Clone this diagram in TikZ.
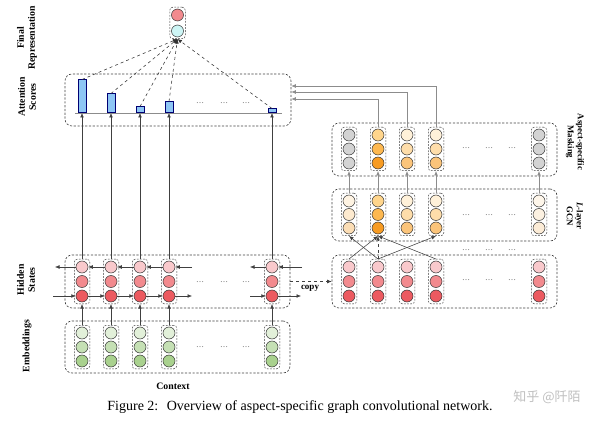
\documentclass[tikz,border=0pt]{standalone}
\usepackage{fontspec}
\setmainfont{Liberation Serif}
\newfontfamily\cjk{Noto Sans CJK SC}
\usetikzlibrary{arrows.meta,fit}
\definecolor{pkA}{HTML}{F9C9CC}
\definecolor{pkB}{HTML}{F28A8E}
\definecolor{pkC}{HTML}{EC5A60}
\definecolor{gnA}{HTML}{E2F0D9}
\definecolor{gnB}{HTML}{C5E0B4}
\definecolor{gnC}{HTML}{A9D18E}
\definecolor{gy}{HTML}{D3D3D3}
\definecolor{orA}{HTML}{FFD58C}
\definecolor{orB}{HTML}{FDB850}
\definecolor{orC}{HTML}{F79B22}
\definecolor{ltA}{HTML}{FFF1D9}
\definecolor{ltB}{HTML}{FEDDAA}
\definecolor{ltC}{HTML}{FBC47A}
\definecolor{crA}{HTML}{FEF3E2}
\definecolor{crB}{HTML}{FDEACF}
\definecolor{crC}{HTML}{FBDDB5}
\definecolor{wtA}{HTML}{FEF6EA}
\definecolor{wtB}{HTML}{FCF1E1}
\definecolor{wtC}{HTML}{FBEBD6}
\definecolor{frRed}{HTML}{F28A8E}
\definecolor{frCyan}{HTML}{CDF5F5}
\definecolor{barblue}{HTML}{8EC6F5}
\tikzset{
 outerbox/.style={draw=black!75, dash pattern=on 2.2pt off 1.6pt, rounded corners=7pt, line width=0.6pt, inner sep=0},
 colbox/.style={draw=black!75, dash pattern=on 1.8pt off 1.3pt, rounded corners=3pt, line width=0.5pt, inner sep=1.5pt},
 cell/.style={circle, draw=black!80, line width=0.5pt, minimum size=12pt, inner sep=0},
 arr/.style={-{Latex[length=4.5pt,width=3.8pt]}, line width=0.55pt, draw=black!75},
 garr/.style={-{Latex[length=4.5pt,width=3.8pt]}, line width=0.65pt, draw=black!45},
 bar/.style={draw=blue!45!black, fill=barblue, minimum width=8pt, inner sep=0, anchor=south, line width=0.5pt},
 lab/.style={font=\fontsize{9.8}{11}\selectfont\bfseries, align=center},
 rlab/.style={font=\fontsize{8.8}{10}\selectfont\bfseries, align=center},
 dotsty/.style={font=\fontsize{8}{8}\selectfont, text=black!70, inner sep=0},
}
\begin{document}
\begin{tikzpicture}[x=1pt,y=-1pt]
\useasboundingbox (0,0) rectangle (600,422);
% outer boxes
\node[outerbox, minimum width=226pt, minimum height=52pt] (att) at (178,100) {};
\node[outerbox, minimum width=225pt, minimum height=53pt] (hid) at (177.5,281.5) {};
\node[outerbox, minimum width=225pt, minimum height=52pt] (emb) at (177.5,347) {};
\node[outerbox, minimum width=225pt, minimum height=53pt] (msk) at (444.5,149.5) {};
\node[outerbox, minimum width=225pt, minimum height=52pt] (gcn) at (444.5,215) {};
\node[outerbox, minimum width=225pt, minimum height=53pt] (cpy) at (444.5,281.5) {};
% final representation
\node[cell, fill=frRed] (fa) at (177.5,15) {};
\node[cell, fill=frCyan] (fb) at (177.5,31) {};
\node[colbox, fit=(fa)(fb)] (fin) {};
% left columns
\foreach \i/\x in {1/82,2/111,3/140,4/169,5/272} {
  \node[cell, fill=pkA] (h\i a) at (\x,267) {};
  \node[cell, fill=pkB] (h\i b) at (\x,281.5) {};
  \node[cell, fill=pkC] (h\i c) at (\x,296) {};
  \node[colbox, fit=(h\i a)(h\i c)] (h\i) {};
  \node[cell, fill=gnA] (e\i a) at (\x,333) {};
  \node[cell, fill=gnB] (e\i b) at (\x,347) {};
  \node[cell, fill=gnC] (e\i c) at (\x,361) {};
  \node[colbox, fit=(e\i a)(e\i c)] (e\i) {};
  \coordinate (base\i) at (\x,113);
  \draw[arr] (e\i.north) -- (h\i.south);
  \draw[arr] (h\i.north) -- (base\i);
}
% attention bars
\draw[black!45, line width=0.8pt] (75,113) -- (282,113);
\node[bar, minimum height=33pt] (b1) at (82,113) {};
\node[bar, minimum height=19pt] (b2) at (111,113) {};
\node[bar, minimum height=6pt] (b3) at (140,113) {};
\node[bar, minimum height=11pt] (b4) at (169,113) {};
\node[bar, minimum height=4pt] (b5) at (272,113) {};
\foreach \i in {1,...,5} {
  \draw[arr, dashed, draw=black!80] (b\i.north) -- (fin.south);
}
% hidden horizontal arrows
\coordinate (tl) at (55,267);
\coordinate (t4) at (192,267);
\coordinate (t5l) at (250,267);
\coordinate (t5r) at (302,267);
\coordinate (bl) at (53,296);
\coordinate (b4r) at (192,296);
\coordinate (b5l) at (250,296);
\coordinate (b5r) at (301,296);
\draw[arr] (h1a.west) -- (tl);
\draw[arr] (h2a.west) -- (h1a.east);
\draw[arr] (h3a.west) -- (h2a.east);
\draw[arr] (h4a.west) -- (h3a.east);
\draw[arr] (t4) -- (h4a.east);
\draw[arr] (h5a.west) -- (t5l);
\draw[arr] (t5r) -- (h5a.east);
\draw[arr] (bl) -- (h1c.west);
\draw[arr] (h1c.east) -- (h2c.west);
\draw[arr] (h2c.east) -- (h3c.west);
\draw[arr] (h3c.east) -- (h4c.west);
\draw[arr] (h4c.east) -- (b4r);
\draw[arr] (b5l) -- (h5c.west);
\draw[arr] (h5c.east) -- (b5r);
% copy
\draw[arr, dashed] (hid.east) -- (cpy.west);
\node[font=\fontsize{9}{9}\selectfont\bfseries] (cplab) at (310,288.5) {copy};
% right columns
\foreach \i/\x/\ma/\mb/\mc/\ga/\gb/\gc in {1/349/gy/gy/gy/crA/crB/crC, 2/378/orA/orB/orC/orA/orB/orC, 3/407/ltA/ltB/ltC/ltA/ltB/ltC, 4/436/ltA/ltB/ltC/ltA/ltB/ltC, 5/539/gy/gy/gy/wtA/wtB/wtC} {
  \node[cell, fill=\ma] (m\i a) at (\x,135) {};
  \node[cell, fill=\mb] (m\i b) at (\x,149) {};
  \node[cell, fill=\mc] (m\i c) at (\x,163) {};
  \node[colbox, fit=(m\i a)(m\i c)] (m\i) {};
  \node[cell, fill=\ga] (g\i a) at (\x,201) {};
  \node[cell, fill=\gb] (g\i b) at (\x,214.5) {};
  \node[cell, fill=\gc] (g\i c) at (\x,228) {};
  \node[colbox, fit=(g\i a)(g\i c)] (g\i) {};
  \node[cell, fill=pkA] (c\i a) at (\x,267) {};
  \node[cell, fill=pkB] (c\i b) at (\x,281.5) {};
  \node[cell, fill=pkC] (c\i c) at (\x,296) {};
  \node[colbox, fit=(c\i a)(c\i c)] (c\i) {};
  \draw[garr] (g\i.north) -- (m\i.south);
}
% graph convolution edges
\draw[arr] (c2.north) -- (g1.south);
\draw[arr] (c2.north) -- (g4.south);
\draw[arr] (c1.north) -- (g2.south);
\draw[arr] (c4.north) -- (g2.south);
\draw[arr, dashed] (c2.north) -- (g2.south);
% masking to attention
\draw[garr] (m4.north) |- ([yshift=14pt]att.east);
\draw[garr] (m3.north) |- ([yshift=8pt]att.east);
\draw[garr] (m2.north) |- ([yshift=1pt]att.east);
% dots
\foreach \y/\n in {103/at,282/hd,347/em} {
  \node[dotsty] (\n1) at (200,\y) {\dots};
  \node[dotsty] (\n2) at (224,\y) {\dots};
  \node[dotsty] (\n3) at (246,\y) {\dots};
}
\foreach \y/\n in {148/mk,215/gc,250/bt,280/cp} {
  \node[dotsty] (\n1) at (466,\y) {\dots};
  \node[dotsty] (\n2) at (489,\y) {\dots};
  \node[dotsty] (\n3) at (512,\y) {\dots};
}
% labels
\node[lab, rotate=90] (l1) at (27,38) {Final\\Representation};
\node[lab, rotate=90] (l2) at (27,97) {Attention\\Scores};
\node[lab, rotate=90] (l3) at (26,280) {Hidden\\States};
\node[lab, rotate=90] (l4) at (27,346) {Embeddings};
\node[rlab, rotate=-90] (r1) at (575,142) {Aspect-specific\\Masking};
\node[rlab, rotate=-90] (r2) at (575,216) {\textit{L}-layer\\GCN};
\node[lab] (ctx) at (173,386) {Context};
% caption and watermark
\node[font=\fontsize{14}{16}\selectfont] (cap) at (300,407) {Figure 2:\hspace{0.6em}Overview of aspect-specific graph convolutional network.};
\node[font=\fontsize{13}{15}\selectfont\cjk, text=black!25] (wm) at (547,397) {知乎 @阡陌};
\end{tikzpicture}
\end{document}
